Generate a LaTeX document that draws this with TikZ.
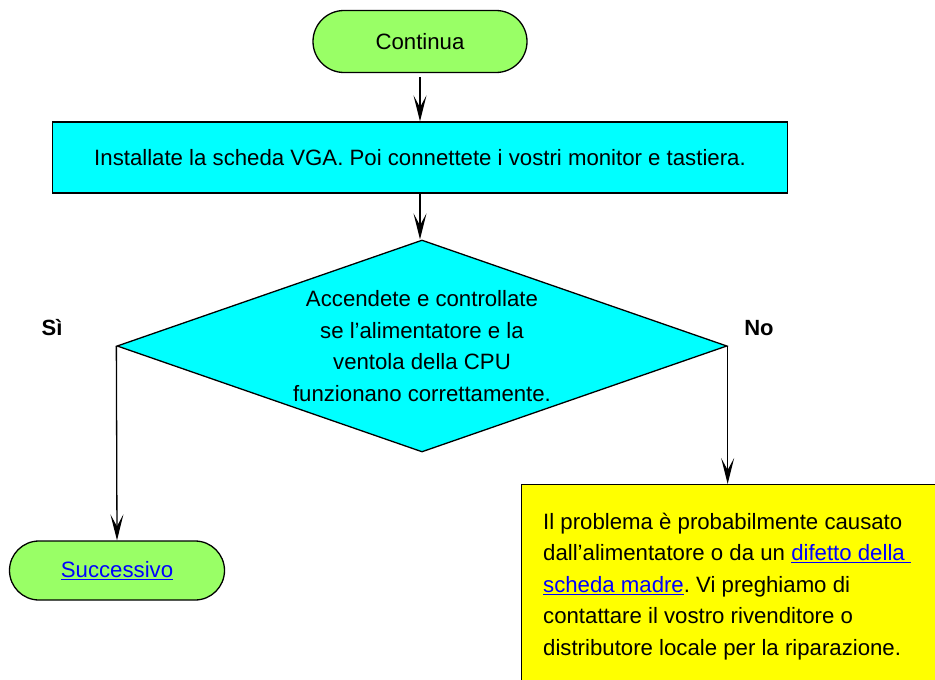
\documentclass[tikz,border=0pt]{standalone}
\usepackage{fontspec}
\setmainfont{Liberation Sans}
\usepackage{tikz}
\usetikzlibrary{arrows.meta, positioning, shapes.geometric}

\definecolor{termgreen}{HTML}{99FF66}
\definecolor{boxcyan}{HTML}{00FFFF}
\definecolor{noteyellow}{HTML}{FFFF00}
\definecolor{linkblue}{HTML}{0000FF}
\newcommand{\weblink}[1]{\textcolor{linkblue}{\underline{#1}}}
\frenchspacing

\begin{document}
\begin{tikzpicture}[
    x=1pt, y=-1pt,
    % Styles for flowchart
    every node/.style={font=\fontsize{22.2}{31.6}\selectfont},
    terminal/.style={draw, line width=1.3pt, fill=termgreen, rounded corners=31pt, minimum width=214pt, minimum height=62pt},
    process/.style={draw, line width=1.3pt, fill=boxcyan},
    decision/.style={draw, line width=1.3pt, fill=boxcyan, diamond, inner sep=0pt, minimum width=610pt, minimum height=212pt},
    note/.style={draw, line width=1.3pt, fill=noteyellow},
    answer/.style={font=\fontsize{22}{26}\selectfont\bfseries},
    edge/.style={line width=1.3pt, -{Stealth[length=26pt, width=13pt, inset=12pt]}}
]
        \useasboundingbox (0,0) rectangle (935,680);
        \clip (0,0) rectangle (935,680);

        % --- Main column ---
        \node[terminal] (start) at (420,41.5) {Continua};
        \node[process, minimum width=735pt, minimum height=71pt] (install) at (420,157.5) {Installate la scheda VGA. Poi connettete i vostri monitor e tastiera.};

        % --- Decision ---
        \node[decision] (check) at (422,346) {};
        \node[align=center, inner sep=0pt] (checktext) at (check) {Accendete e controllate\\se l’alimentatore e la\\ventola della CPU\\funzionano correttamente.};
        \node[answer] (yes) at (52,328) {Sì};
        \node[answer] (no) at (759,328) {No};

        % --- Outcomes ---
        \node[terminal, minimum width=215pt, minimum height=59pt, rounded corners=29.5pt] (next) at (117,570.5) {\weblink{Successivo}};
        \node[note, anchor=north west, minimum width=500pt, minimum height=260pt] (problem) at (521,484) {};
        \node[anchor=north west, align=left, inner sep=0pt] (problemtext) at (543,512.5) {Il problema è probabilmente causato\\dall’alimentatore o da un \weblink{difetto della\ }\\\weblink{scheda madre}. Vi preghiamo di\\contattare il vostro rivenditore o\\distributore locale per la riparazione.};

        % --- Edges ---
        \draw[edge, shorten <=4pt] (start.south) -- (install.north);
        \draw[edge] (install.south) -- (install.south |- check.north);
        \draw[edge] (check.west) -- (next.north);
        \draw[edge] (check.east) -- (check.east |- problem.north);

    \end{tikzpicture}
\end{document}
